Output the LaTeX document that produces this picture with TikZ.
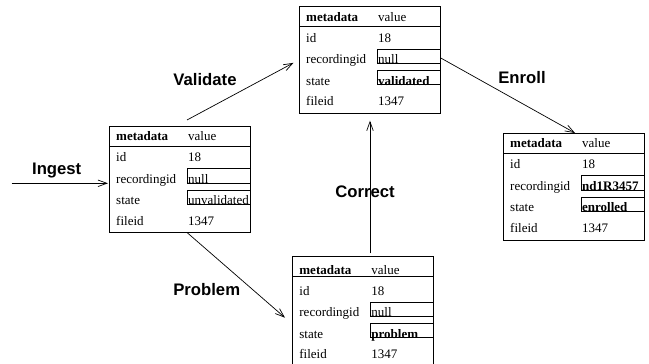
\documentclass[tikz,border=0pt]{standalone}
\usepackage{fontspec}
\setmainfont{Liberation Serif}
\newfontfamily\labfont{Liberation Sans}
\usetikzlibrary{calc,arrows.meta}
\tikzset{
  tbl/.style={draw=black, line width=0.8pt, minimum width=141pt, inner sep=0pt, outer sep=0pt},
  cell/.style={anchor=base west, inner sep=0pt, font=\fontsize{13}{15}\selectfont},
  cellb/.style={cell, font=\fontsize{13}{15}\selectfont\bfseries},
  lab/.style={inner sep=0pt, font=\labfont\fontsize{16.7}{20}\selectfont\bfseries},
  arr/.style={line width=0.7pt, -{Straight Barb[length=9pt,width=6.5pt,line width=0.7pt]}},
  vbox/.style={line width=0.8pt}
}
% #1 name, #2 x, #3 y, #4 height, #5 text shift, #6 rec value, #7 state value
\newcommand\mktbl[7]{%
  \node[tbl, minimum height=#4pt, anchor=north west] (#1) at (#2,#3) {};
  \draw[line width=0.8pt] ($(#1.north west)+(0,20)$) -- ($(#1.north east)+(0,20)$);
  \node[cellb] (#1-h1) at ($(#1.north west)+(6.5,14.5+#5)$) {metadata};
  \node[cell]  (#1-h2) at ($(#1.north west)+(78.5,14.5+#5)$) {value};
  \node[cell]  (#1-a1) at ($(#1.north west)+(6.5,35.5+#5)$) {id};
  \node[cell]  (#1-a2) at ($(#1.north west)+(78.5,35.5+#5)$) {18};
  \node[cell]  (#1-b1) at ($(#1.north west)+(6.5,57+#5)$) {recordingid};
  \node[cell]  (#1-b2) at ($(#1.north west)+(78.5,57+#5)$) {#6};
  \node[cell]  (#1-c1) at ($(#1.north west)+(6.5,78.5+#5)$) {state};
  \node[cell]  (#1-c2) at ($(#1.north west)+(78.5,78.5+#5)$) {#7};
  \node[cell]  (#1-d1) at ($(#1.north west)+(6.5,99+#5)$) {fileid};
  \node[cell]  (#1-d2) at ($(#1.north west)+(78.5,99+#5)$) {1347};
  \draw[vbox] ($(#1.north west)+(78,42.5+#5)$) rectangle ($(#1.north east)+(0,57+#5)$);
  \draw[vbox] ($(#1.north west)+(78,64+#5)$) rectangle ($(#1.north east)+(0,78+#5)$);
}
\begin{document}
\begin{tikzpicture}[x=1pt,y=-1pt]
\useasboundingbox (0,0) rectangle (649,364);
\clip (0,0) rectangle (649,364);
\mktbl{t1}{109.5}{126}{106}{0}{null}{unvalidated}
\mktbl{t2}{299.5}{6.7}{106.3}{0}{null}{\textbf{validated}}
\mktbl{t3}{503.5}{133}{107}{0}{\textbf{nd1R3457}}{\textbf{enrolled}}
\mktbl{t4}{292.7}{256.7}{112}{3}{null}{\textbf{problem}}
\coordinate (ingstart) at (11.7,183.3);
\draw[arr] (ingstart) -- ($(ingstart -| t1.west)+(-1.5,0)$);
\draw[arr] ($(t1.north)+(7,-6)$) -- ($(t2.west)+(-6,3)$);
\draw[arr] ($(t2.east)+(0,-2)$) -- ($(t3.north)+(1,0)$);
\draw[arr] ($(t1.south)+(7,0.5)$) -- ($(t4.west)+(-7.7,5)$);
\draw[arr] ($(t2.south |- t4.north)+(0,-3.4)$) -- ($(t2.south)+(0,7.7)$);
\node[lab] (lingest) at (56.7,170.7) {Ingest};
\node[lab] (lvalidate) at (205,80) {Validate};
\node[lab] (lenroll) at (522,78) {Enroll};
\node[lab] (lproblem) at (206.7,290) {Problem};
\node[lab] (lcorrect) at (365,191.7) {Correct};
\end{tikzpicture}
\end{document}
